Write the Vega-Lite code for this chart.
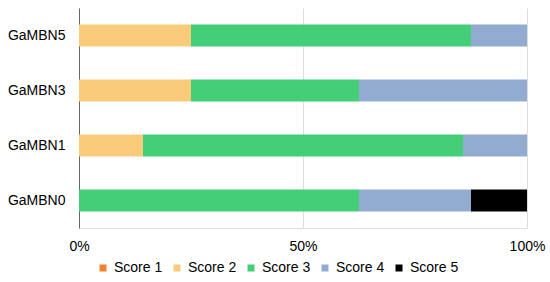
{
  "$schema": "https://vega.github.io/schema/vega-lite/v6.json",
  "autosize": {"type": "none"},
  "padding": {"left": 79, "top": 8, "right": 23, "bottom": 54},
  "width": 448,
  "height": 220,
  "background": "white",
  "config": {
    "font": "Liberation Sans",
    "view": {"stroke": null}
  },
  "data": {
    "values": [
      {"model": "GaMBN5", "score": "Score 2", "count": 2},
      {"model": "GaMBN5", "score": "Score 3", "count": 5},
      {"model": "GaMBN5", "score": "Score 4", "count": 1},
      {"model": "GaMBN3", "score": "Score 2", "count": 2},
      {"model": "GaMBN3", "score": "Score 3", "count": 3},
      {"model": "GaMBN3", "score": "Score 4", "count": 3},
      {"model": "GaMBN1", "score": "Score 2", "count": 1},
      {"model": "GaMBN1", "score": "Score 3", "count": 5},
      {"model": "GaMBN1", "score": "Score 4", "count": 1},
      {"model": "GaMBN0", "score": "Score 3", "count": 5},
      {"model": "GaMBN0", "score": "Score 4", "count": 2},
      {"model": "GaMBN0", "score": "Score 5", "count": 1}
    ]
  },
  "mark": {"type": "bar"},
  "encoding": {
    "y": {
      "field": "model",
      "type": "nominal",
      "sort": ["GaMBN5", "GaMBN3", "GaMBN1", "GaMBN0"],
      "scale": {"paddingInner": 0.6, "paddingOuter": 0.3},
      "axis": {
        "title": null,
        "ticks": false,
        "domainColor": "#666666",
        "labelFontSize": 14,
        "labelColor": "#000000",
        "labelPadding": 14
      }
    },
    "x": {
      "field": "count",
      "type": "quantitative",
      "stack": "normalize",
      "scale": {"domain": [0, 1], "nice": false},
      "axis": {
        "title": null,
        "values": [0, 0.5, 1],
        "format": "%",
        "ticks": false,
        "grid": true,
        "gridColor": "#dddddd",
        "domainColor": "#dddddd",
        "labelFontSize": 14,
        "labelFlush": false,
        "labelColor": "#000000",
        "labelPadding": 11
      }
    },
    "color": {
      "field": "score",
      "type": "nominal",
      "scale": {
        "domain": ["Score 1", "Score 2", "Score 3", "Score 4", "Score 5"],
        "range": ["#F5822A", "#FBCB7C", "#44CE78", "#92ABD0", "#000000"]
      },
      "legend": {
        "title": null,
        "orient": "none",
        "direction": "horizontal",
        "legendX": 17,
        "legendY": 253,
        "symbolType": "square",
        "symbolSize": 49,
        "symbolStrokeWidth": 0,
        "labelFontSize": 14,
        "labelColor": "#000000",
        "labelOffset": 4,
        "columnPadding": 7
      }
    },
    "order": {"field": "score", "sort": "ascending"}
  }
}
